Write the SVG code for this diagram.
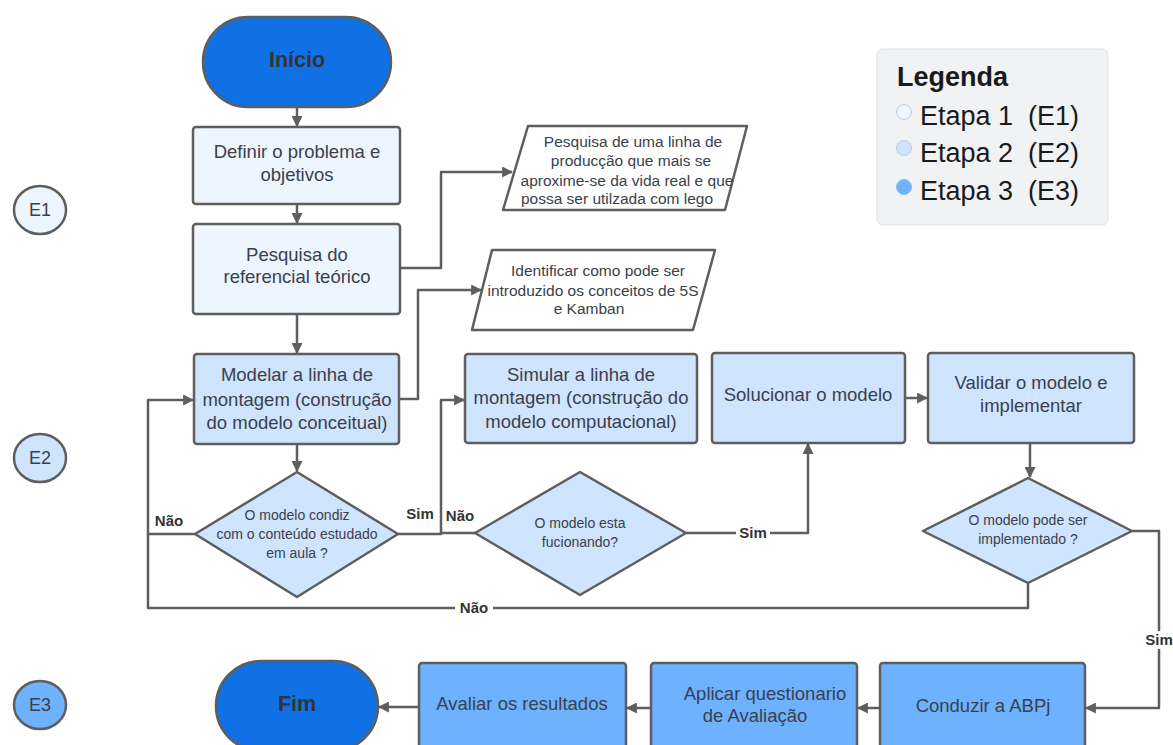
<svg xmlns="http://www.w3.org/2000/svg" width="1173" height="745" viewBox="0 0 1173 745">
  <style>
    .e1 { fill: #edf5ff; stroke: #5e5e5e; stroke-width: 2.5; }
    .e2 { fill: #cfe4ff; stroke: #5e5e5e; stroke-width: 2.5; }
    .e3 { fill: #6db1ff; stroke: #5e5e5e; stroke-width: 2.5; }
    .term { fill: #1071e5; stroke: #5e5e5e; stroke-width: 2.5; }
    .io { fill: #ffffff; stroke: #5e5e5e; stroke-width: 2.5; stroke-linejoin: round; }
    .t { font-family: "Liberation Sans", Arial, sans-serif; fill: #3a414a; text-anchor: middle; }
    .box { font-size: 18.5px; }
    .small { font-size: 15.5px; }
    .dia { font-size: 14px; }
    .stage { font-size: 18px; }
    .bold { font-weight: bold; fill: #333333; font-size: 21.5px; }
    .lbl { font-family: "Liberation Sans", Arial, sans-serif; font-size: 15px; font-weight: bold; fill: #333333; text-anchor: middle; }
    .conn { fill: none; stroke: #5e5e5e; stroke-width: 2.5; stroke-linejoin: round; }
    .leg { font-family: "Liberation Sans", Arial, sans-serif; font-size: 27px; fill: #1a1a1a; }
  </style>
  <defs>
    <marker id="arrow" viewBox="0 0 10 10" refX="9" refY="5" markerWidth="11" markerHeight="11" markerUnits="userSpaceOnUse" orient="auto">
      <path d="M0,0 L10,5 L0,10 Z" fill="#5e5e5e"/>
    </marker>
  </defs>
  <rect width="1173" height="745" fill="#ffffff"/>

  <!-- connectors -->
  <g id="connectors">
    <path class="conn" d="M297,108 V126" marker-end="url(#arrow)"/>
    <path class="conn" d="M297,204 V223" marker-end="url(#arrow)"/>
    <path class="conn" d="M297,314 V353" marker-end="url(#arrow)"/>
    <path class="conn" d="M297,444 V471" marker-end="url(#arrow)"/>
    <path class="conn" d="M400,268 H441 V172 H512" marker-end="url(#arrow)"/>
    <path class="conn" d="M399,399 H418 V290 H481" marker-end="url(#arrow)"/>
    <!-- Não loop back to modelling -->
    <path class="conn" d="M1028,583 V608 H148 V400 H193" marker-end="url(#arrow)"/>
    <path class="conn" d="M195,534 H148"/>
    <!-- into simulation -->
    <path class="conn" d="M398,534 H441 V400 H464" marker-end="url(#arrow)"/>
    <path class="conn" d="M475,533 H441"/>
    <path class="conn" d="M686,533 H808 V444" marker-end="url(#arrow)"/>
    <path class="conn" d="M905,398 H927" marker-end="url(#arrow)"/>
    <path class="conn" d="M1030,443 V477" marker-end="url(#arrow)"/>
    <path class="conn" d="M1132,531 H1159 V708 H1086" marker-end="url(#arrow)"/>
    <path class="conn" d="M880,708 H858" marker-end="url(#arrow)"/>
    <path class="conn" d="M651,708 H627" marker-end="url(#arrow)"/>
    <path class="conn" d="M419,707 H379" marker-end="url(#arrow)"/>
    <!-- labels -->
    <text class="lbl" x="169" y="526">Não</text>
    <text class="lbl" x="420" y="519">Sim</text>
    <text class="lbl" x="460" y="521">Não</text>
    <rect x="455" y="600" width="38" height="16" fill="#ffffff"/>
    <text class="lbl" x="474" y="613">Não</text>
    <rect x="736" y="525" width="34" height="16" fill="#ffffff"/>
    <text class="lbl" x="753" y="538">Sim</text>
    <rect x="1142" y="631" width="34" height="18" fill="#ffffff"/>
    <text class="lbl" x="1159" y="645">Sim</text>
  </g>

  <g id="inicio">
    <rect class="term" x="203" y="17" width="188" height="90" rx="45"/>
    <text class="t bold" x="297" y="67">Início</text>
  </g>
  <g id="definir">
    <rect class="e1" x="193" y="127" width="207" height="77" rx="3"/>
    <text class="t box" x="297" y="158">Definir o problema e</text>
    <text class="t box" x="297" y="181">objetivos</text>
  </g>
  <g id="pesquisa">
    <rect class="e1" x="193" y="224" width="207" height="90" rx="3"/>
    <text class="t box" x="297" y="261">Pesquisa do</text>
    <text class="t box" x="297" y="283">referencial teórico</text>
  </g>
  <g id="linha-producao">
    <polygon class="io" points="528,126 747,126 725,210 503,210"/>
    <text class="t small" x="633" y="147">Pesquisa de uma linha de</text>
    <text class="t small" x="631" y="166">producção que mais se</text>
    <text class="t small" x="627" y="186">aproxime-se da vida real e que</text>
    <text class="t small" x="617" y="204">possa ser utilzada com lego</text>
  </g>
  <g id="conceitos">
    <polygon class="io" points="492,250 715,250 693,330 472,330"/>
    <text class="t small" x="598" y="276">Identificar como pode ser</text>
    <text class="t small" x="593" y="296">introduzido os conceitos de 5S</text>
    <text class="t small" x="589" y="314">e Kamban</text>
  </g>
  <g id="modelar">
    <rect class="e2" x="194" y="354" width="205" height="90" rx="3"/>
    <text class="t box" x="297" y="381">Modelar a linha de</text>
    <text class="t box" x="297" y="406">montagem (construção</text>
    <text class="t box" x="297" y="429">do modelo conceitual)</text>
  </g>
  <g id="decisao-conteudo">
    <polygon class="e2" points="297,472 398,534 297,597 195,534" stroke-linejoin="round"/>
    <text class="t dia" x="297" y="520">O modelo condiz</text>
    <text class="t dia" x="297" y="539">com o conteúdo estudado</text>
    <text class="t dia" x="297" y="558">em aula ?</text>
  </g>
  <g id="simular">
    <rect class="e2" x="465" y="354" width="232" height="89" rx="3"/>
    <text class="t box" x="581" y="381">Simular a linha de</text>
    <text class="t box" x="581" y="404">montagem (construção do</text>
    <text class="t box" x="581" y="428">modelo computacional)</text>
  </g>
  <g id="decisao-funcionando">
    <polygon class="e2" points="580,472 686,533 580,595 475,533" stroke-linejoin="round"/>
    <text class="t dia" x="580" y="528">O modelo esta</text>
    <text class="t dia" x="580" y="547">fucionando?</text>
  </g>
  <g id="solucionar">
    <rect class="e2" x="712" y="353" width="193" height="90" rx="3"/>
    <text class="t box" x="808" y="401">Solucionar o modelo</text>
  </g>
  <g id="validar">
    <rect class="e2" x="928" y="353" width="206" height="90" rx="3"/>
    <text class="t box" x="1031" y="389">Validar o modelo e</text>
    <text class="t box" x="1031" y="412">implementar</text>
  </g>
  <g id="decisao-implementar">
    <polygon class="e2" points="1028,478 1132,531 1028,583 923,531" stroke-linejoin="round"/>
    <text class="t dia" x="1028" y="525">O modelo pode ser</text>
    <text class="t dia" x="1028" y="544">implementado ?</text>
  </g>
  <g id="conduzir">
    <rect class="e3" x="880" y="663" width="205" height="90" rx="3"/>
    <text class="t box" x="983" y="712">Conduzir a ABPj</text>
  </g>
  <g id="aplicar">
    <rect class="e3" x="651" y="663" width="206" height="90" rx="3"/>
    <text class="t box" x="765" y="700">Aplicar questionario</text>
    <text class="t box" x="755" y="722">de Avaliação</text>
  </g>
  <g id="avaliar">
    <rect class="e3" x="419" y="663" width="207" height="90" rx="3"/>
    <text class="t box" x="522" y="710">Avaliar os resultados</text>
  </g>
  <g id="fim">
    <rect class="term" x="216" y="661" width="162" height="90" rx="45"/>
    <text class="t bold" x="297" y="711">Fim</text>
  </g>

  <g id="etapa-e1">
    <ellipse class="e1" cx="40" cy="210" rx="26" ry="24"/>
    <text class="t stage" x="40" y="216">E1</text>
  </g>
  <g id="etapa-e2">
    <ellipse class="e2" cx="40" cy="458" rx="26" ry="24"/>
    <text class="t stage" x="40" y="464">E2</text>
  </g>
  <g id="etapa-e3">
    <ellipse class="e3" cx="40" cy="705" rx="26" ry="24"/>
    <text class="t stage" x="40" y="711">E3</text>
  </g>

  <g id="legenda">
    <rect x="877" y="49" width="231" height="176" rx="6" fill="#f1f2f4" stroke="#dfe1e5" stroke-width="1"/>
    <text class="leg" x="897" y="86" font-weight="bold" font-size="28">Legenda</text>
    <circle cx="904" cy="112" r="7.5" fill="#edf5ff" stroke="#c9ccd1" stroke-width="1"/>
    <text class="leg" x="920" y="125" xml:space="preserve">Etapa 1  (E1)</text>
    <circle cx="904" cy="148" r="7.5" fill="#cfe4ff" stroke="#c9ccd1" stroke-width="1"/>
    <text class="leg" x="920" y="162" xml:space="preserve">Etapa 2  (E2)</text>
    <circle cx="904" cy="187" r="7.5" fill="#6db1ff" stroke="#8fb8e8" stroke-width="1"/>
    <text class="leg" x="920" y="200" xml:space="preserve">Etapa 3  (E3)</text>
  </g>
</svg>
